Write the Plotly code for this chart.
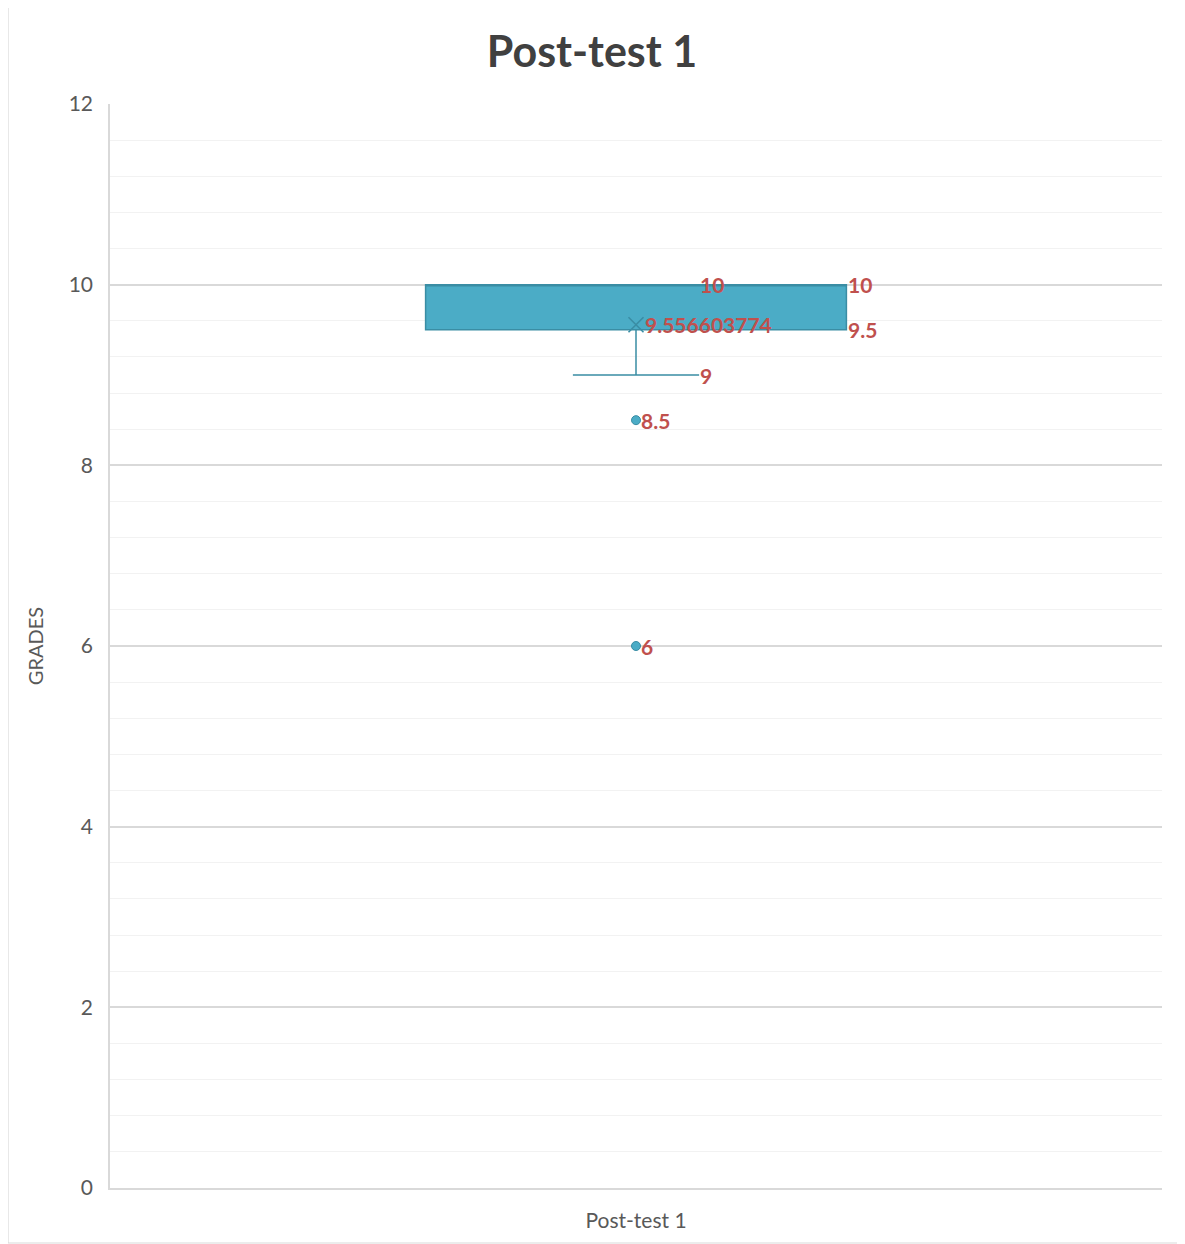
import plotly.graph_objects as go

categories = ["Post-test 1"]
q1 = [9.5]
median = [10]
q3 = [10]
lower_whisker = [9]
upper_whisker = [10]
mean = [9.556603774]
outliers = [8.5, 6]
mean_label = ["9.556603774"]
y_ticks = [0, 2, 4, 6, 8, 10, 12]

FILL = "#4BACC6"
EDGE = "#3A8DA4"
LABEL = "#C0504D"
FONT = "Lato, 'Open Sans', sans-serif"
BOX_W = 0.4

# figure is placed at page offset (8, 8) by the default body margin
W, H = 1177, 1236
ML, MR, MT, MB = 102, 23, 96, 56
PW, PH = W - ML - MR, H - MT - MB

fig = go.Figure()
xpos = [0]
fig.add_trace(go.Box(
    x=xpos, q1=q1, median=median, q3=q3,
    lowerfence=lower_whisker, upperfence=upper_whisker,
    width=BOX_W, whiskerwidth=0.3, fillcolor=FILL,
    line=dict(color=EDGE, width=1.5), boxpoints=False,
    name=categories[0], showlegend=False, hoverinfo="skip",
))
fig.add_trace(go.Scatter(
    x=xpos, y=mean, mode="markers",
    marker=dict(symbol="x-thin-open", size=15, color=EDGE, line=dict(color=EDGE, width=1.6)),
    showlegend=False, hoverinfo="skip",
))
fig.add_trace(go.Scatter(
    x=[0] * len(outliers), y=outliers, mode="markers",
    marker=dict(symbol="circle", size=9, color=FILL, line=dict(color=EDGE, width=1)),
    showlegend=False, hoverinfo="skip",
))

lab_font = dict(family=FONT, size=21, color=LABEL, weight="bold")
def lab(x, y, text, xshift):
    fig.add_annotation(x=x, y=y, text=text, showarrow=False, xanchor="left",
                       yanchor="middle", xshift=xshift, font=lab_font)

lab(0, median[0], str(median[0]), 62)
lab(BOX_W / 2, q3[0], str(q3[0]), 0)
lab(BOX_W / 2, q1[0], str(q1[0]), 0)
lab(0, mean[0], mean_label[0], 7)
lab(0, lower_whisker[0], str(lower_whisker[0]), 62)
for v in outliers:
    lab(0, v, str(v), 3)

fig.update_layout(
    width=W, height=H,
    margin=dict(l=ML, r=MR, t=MT, b=MB),
    paper_bgcolor="white", plot_bgcolor="white",
    title=dict(text="Post-test 1", x=(592 - 8) / W, xanchor="center", y=1 - 44 / H, yanchor="middle",
               yref="container", font=dict(family=FONT, size=43, color="#404040", weight="bold")),
    xaxis=dict(range=[-0.5, 0.5], tickvals=[0], ticktext=categories, showgrid=False,
               zeroline=False, showline=True, linecolor="#D9D9D9", linewidth=1.5, automargin=False,
               ticks="", ticklabelstandoff=13, tickfont=dict(family=FONT, size=21, color="#595959")),
    yaxis=dict(range=[0, 12], tickvals=y_ticks, showgrid=True, gridcolor="#D9D9D9", gridwidth=1.5,
               zeroline=False, showline=True, linecolor="#D9D9D9", linewidth=1.5, automargin=False,
               ticks="", ticklabelstandoff=11, tickfont=dict(family=FONT, size=21, color="#595959"),
               minor=dict(dtick=0.4, showgrid=True, gridcolor="#F2F2F2", gridwidth=1.2),
               title=dict(text="GRADES", standoff=20, font=dict(family=FONT, size=20, color="#595959"))),
)
fig.add_shape(type="rect", xref="paper", yref="paper",
              x0=(0 - ML) / PW, x1=(1170 - ML) / PW,
              y0=(MT + PH - 1235) / PH, y1=(MT + PH + 1) / PH,
              line=dict(color="#D9D9D9", width=1.2), fillcolor="rgba(0,0,0,0)", layer="below")

fig.write_html("out.html")
